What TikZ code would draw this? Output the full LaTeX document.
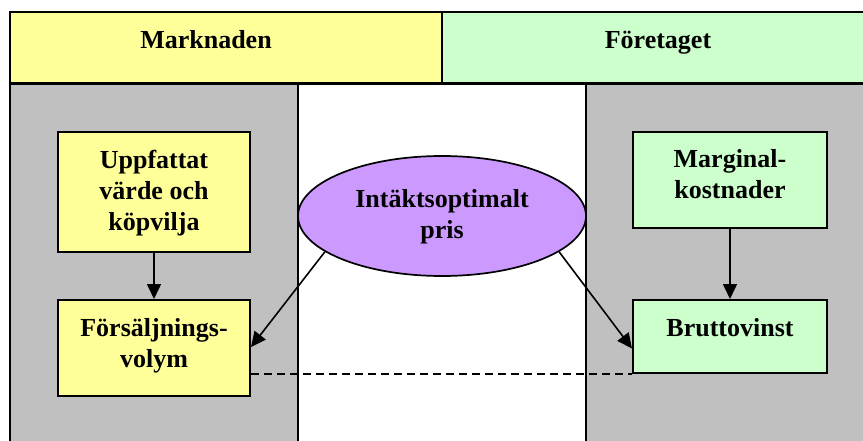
\documentclass[tikz,border=0pt]{standalone}
\usepackage{fontspec}
\setmainfont{Liberation Serif}
\usetikzlibrary{arrows.meta,shapes.geometric,calc}
\definecolor{mkyellow}{HTML}{FFFF99}
\definecolor{ftgreen}{HTML}{CCFFCC}
\definecolor{panelgray}{HTML}{C0C0C0}
\definecolor{prislila}{HTML}{CC99FF}
\tikzset{
  lbl/.style={font=\fontsize{26}{31}\selectfont\bfseries, align=center, inner sep=0pt, anchor=base},
  cell/.style={draw=black, line width=2.5pt},
  panel/.style={draw=black, line width=2.5pt, fill=panelgray},
  factor/.style={draw=black, line width=2pt},
  flow/.style={-{Triangle[length=15pt,width=14pt]}, line width=1.6pt},
}
\begin{document}
\begin{tikzpicture}[x=1pt,y=-1pt]
\useasboundingbox (0,0) rectangle (863,441);
\begin{scope}
\clip (0,0) rectangle (863,441);
% column panels below the header
\draw[panel] (10,84) rectangle (298,460);
\draw[cell, fill=white] (298,84) rectangle (586,460);
\draw[panel] (586,84) rectangle (880,460);
% header cells
\draw[cell, fill=mkyellow] (10,12) rectangle (442,83);
\draw[cell, fill=ftgreen] (442,12) rectangle (880,83);
\end{scope}
\node[lbl] (hm) at (206,49) {Marknaden};
\node[lbl] (hf) at (658,49) {Företaget};
% market side (text nodes sit on the baseline of their last line)
\node[factor, fill=mkyellow, minimum width=192pt, minimum height=120pt] (uv) at (154,192) {};
\node[lbl] (uvt) at (154,230) {Uppfattat\\värde och\\köpvilja};
\node[factor, fill=mkyellow, minimum width=192pt, minimum height=96pt] (fv) at (154,348) {};
\node[lbl] (fvt) at (154,367) {Försäljnings-\\volym};
% company side
\node[factor, fill=ftgreen, minimum width=194pt, minimum height=96pt] (mk) at (730,180) {};
\node[lbl] (mkt) at (730,199) {Marginal-\\kostnader};
\node[factor, fill=ftgreen, minimum width=194pt, minimum height=73pt] (bv) at (730,336.5) {};
\node[lbl] (bvt) at (730,336) {Bruttovinst};
% price ellipse
\node[ellipse, draw=black, line width=1.7pt, fill=prislila, minimum width=288pt, minimum height=120pt, inner sep=0pt] (ip) at (442,216) {};
\node[lbl] (ipt) at (442,238) {Intäktsoptimalt\\pris};
% connectors
\draw[flow] (uv.south) -- (fv.north);
\draw[flow] (mk.south) -- (bv.north);
\coordinate (fvin) at ($(fv.north east)!0.49!(fv.south east)$);
\coordinate (bvin) at ($(bv.north west)!0.66!(bv.south west)$);
\draw[flow] (ip.197) -- (fvin);
\draw[flow] (ip.343) -- (bvin);
\coordinate (dl) at (fv.east |- bv.south west);
\draw[line width=1.5pt, dash pattern=on 8pt off 5pt] (dl) -- (bv.south west);
\end{tikzpicture}
\end{document}
